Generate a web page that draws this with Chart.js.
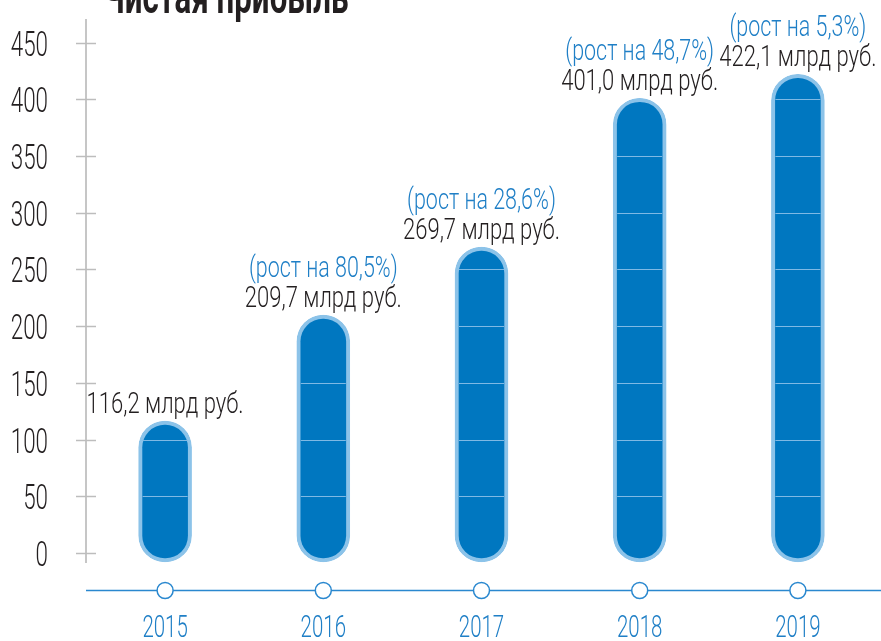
<!DOCTYPE html>
<html>
<head>
<meta charset="utf-8">
<script src="https://cdn.jsdelivr.net/npm/chart.js@4.4.0/dist/chart.umd.min.js"></script>
<style>
  html, body { margin: 0; padding: 0; background: #fff; overflow: hidden; }
  #wrap { position: relative; width: 881px; height: 641px; overflow: hidden; }
  #title {
    position: absolute; left: 103px; top: -26px; margin: 0;
    font: bold 46px Roboto, sans-serif;
    color: #231f20; white-space: nowrap; line-height: 1;
    transform: scaleX(0.68); transform-origin: left top;
  }
  canvas { position: absolute; left: 0; top: 0; }
</style>
</head>
<body>
<div id="wrap">
  <canvas id="chart" width="881" height="641"></canvas>
  <h1 id="title">Чистая прибыль</h1>
</div>
<script>
const years = ["2015", "2016", "2017", "2018", "2019"];
const profit = [116.2, 209.7, 269.7, 401.0, 422.1];
const valueLabels = ["116,2 млрд руб.", "209,7 млрд руб.", "269,7 млрд руб.", "401,0 млрд руб.", "422,1 млрд руб."];
const growthLabels = ["", "(рост на 80,5%)", "(рост на 28,6%)", "(рост на 48,7%)", "(рост на 5,3%)"];
const yTicks = [0, 50, 100, 150, 200, 250, 300, 350, 400, 450];

const BLUE = "#1f7fc6";
const DARK = "#231f20";

// narrow text: the original uses a condensed face, so squeeze Roboto Light
function narrowText(ctx, text, x, y, size, sx, color, align) {
  ctx.save();
  ctx.translate(x, y);
  ctx.scale(sx, 1);
  ctx.font = "300 " + size + "px Roboto";
  ctx.fillStyle = color;
  ctx.textAlign = align;
  ctx.textBaseline = "alphabetic";
  ctx.fillText(text, 0, 0);
  ctx.restore();
}

const decor = {
  id: "decor",
  afterDraw(chart) {
    const { ctx, chartArea, scales: { x, y } } = chart;
    const bars = chart.getDatasetMeta(0).data;
    ctx.save();

    // light lines across the bars at every tick
    ctx.strokeStyle = "#7fb9e4";
    ctx.lineWidth = 1;
    bars.forEach((bar) => {
      const half = bar.width / 2 - 4;
      yTicks.forEach((v) => {
        if (v <= 0) return;
        const py = Math.round(y.getPixelForValue(v)) + 0.5;
        if (py > bar.y + 14 && py < bar.base - 14) {
          ctx.beginPath();
          ctx.moveTo(bar.x - half, py);
          ctx.lineTo(bar.x + half, py);
          ctx.stroke();
        }
      });
    });

    // crosses on the value axis + tick labels
    ctx.strokeStyle = "#bdbdbd";
    ctx.lineWidth = 1.5;
    yTicks.forEach((v) => {
      const py = Math.round(y.getPixelForValue(v)) + 0.5;
      ctx.beginPath();
      ctx.moveTo(chartArea.left - 10, py);
      ctx.lineTo(chartArea.left + 10, py);
      ctx.stroke();
      narrowText(ctx, String(v), 48, py + 12.5, 35, 0.64, DARK, "right");
    });

    // timeline with circles and years
    const ay = chartArea.bottom + 28.5;
    ctx.strokeStyle = "#2a88cf";
    ctx.lineWidth = 1.5;
    ctx.beginPath();
    ctx.moveTo(chartArea.left, ay);
    ctx.lineTo(chart.width, ay);
    ctx.stroke();
    years.forEach((yr, i) => {
      const px = x.getPixelForValue(i);
      ctx.beginPath();
      ctx.arc(px, ay, 8, 0, Math.PI * 2);
      ctx.fillStyle = "#fff";
      ctx.fill();
      ctx.stroke();
      narrowText(ctx, yr, px, 637, 31, 0.66, BLUE, "center");
    });

    // value labels above bars
    bars.forEach((bar, i) => {
      narrowText(ctx, valueLabels[i], bar.x, bar.y - 8, 29, 0.76, DARK, "center");
      if (growthLabels[i]) {
        narrowText(ctx, growthLabels[i], bar.x, bar.y - 38, 29, 0.74, BLUE, "center");
      }
    });
    ctx.restore();
  }
};

new Chart(document.getElementById("chart"), {
  type: "bar",
  data: {
    labels: years,
    datasets: [{
      data: profit,
      base: -8,
      backgroundColor: "#0077c0",
      borderColor: "#8cc3e9",
      borderWidth: 4,
      borderRadius: 27,
      borderSkipped: false,
      barThickness: 53,
      clip: false
    }]
  },
  options: {
    responsive: false,
    animation: false,
    devicePixelRatio: 1,
    layout: { padding: { top: 20, right: 4, left: 0, bottom: 0 } },
    plugins: { legend: { display: false }, tooltip: { enabled: false } },
    scales: {
      x: {
        offset: true,
        grid: { display: false },
        border: { display: false },
        ticks: { display: false },
        afterFit: (s) => { s.height = 79; s.paddingLeft = 0; s.paddingRight = 0; }
      },
      y: {
        min: -8,
        max: 470,
        grid: { display: false },
        border: { display: true, color: "#c6c6c6", width: 2 },
        ticks: { display: false },
        afterBuildTicks: (s) => { s.ticks = yTicks.map((v) => ({ value: v })); },
        afterFit: (s) => { s.width = 86; s.paddingTop = 0; s.paddingBottom = 0; }
      }
    }
  },
  plugins: [decor]
});
</script>
</body>
</html>
